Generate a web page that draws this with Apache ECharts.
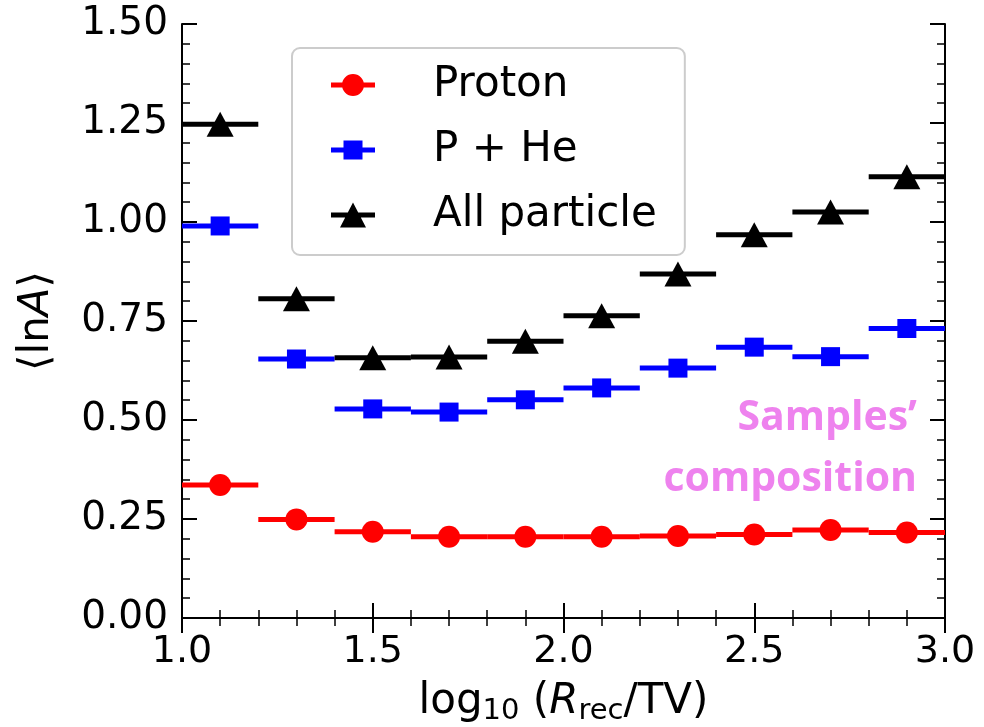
<!DOCTYPE html>
<html>
<head>
<meta charset="utf-8">
<script src="https://cdn.jsdelivr.net/npm/echarts@6/dist/echarts.min.js"></script>
<style>
html,body{margin:0;padding:0;background:#fff;}
#chart{width:984px;height:727px;}
</style>
</head>
<body>
<div id="chart"></div>
<script>
// ---- data ----
const binCenters = [1.1, 1.3, 1.5, 1.7, 1.9, 2.1, 2.3, 2.5, 2.7, 2.9];
const binHalfWidth = 0.1;
const protonLnA = [0.336, 0.249, 0.218, 0.205, 0.205, 0.205, 0.207, 0.211, 0.222, 0.216];
const pHeLnA    = [0.990, 0.654, 0.528, 0.520, 0.551, 0.581, 0.631, 0.684, 0.660, 0.731];
const allLnA    = [1.247, 0.806, 0.657, 0.659, 0.699, 0.763, 0.869, 0.968, 1.025, 1.114];
const seriesNames = ['Proton', 'P + He', 'All particle'];
const xTicks = [1.0, 1.5, 2.0, 2.5, 3.0];
const yTicks = [0.00, 0.25, 0.50, 0.75, 1.00, 1.25, 1.50];

const FONT = 'DejaVu Sans';
const chart = echarts.init(document.getElementById('chart'), null, {renderer: 'canvas'});

function errData(vals) {
  return binCenters.map((c, i) => [c, c - binHalfWidth, c + binHalfWidth, vals[i]]);
}
function ptData(vals) {
  return binCenters.map((c, i) => [c, vals[i]]);
}
function errSeries(name, vals, color) {
  return {
    type: 'custom', name: name, data: errData(vals), z: 2,
    itemStyle: {color: color},
    encode: {x: [0, 1, 2], y: 3},
    renderItem: function (params, api) {
      const p1 = api.coord([api.value(1), api.value(3)]);
      const p2 = api.coord([api.value(2), api.value(3)]);
      return {type: 'line', shape: {x1: p1[0], y1: p1[1], x2: p2[0], y2: p2[1]},
              style: {stroke: color, lineWidth: 5}};
    }
  };
}
function ptSeries(name, vals, color, symbol, size) {
  return {
    type: 'scatter', name: name, data: ptData(vals), z: 3,
    symbol: symbol, symbolSize: size,
    itemStyle: {color: color, opacity: 1},
    emphasis: {disabled: true}
  };
}

const tickStyle = {show: true, inside: true, length: 15, lineStyle: {color: '#000', width: 2}};
const minorStyle = {show: true, splitNumber: 5, length: 8, lineStyle: {color: '#000', width: 1.5}};
const lineStyle = {show: true, lineStyle: {color: '#000', width: 2}};

const iconCircle = 'path://M0,10 L44,10 L44,15 L0,15 Z M33,12.5 A11,11 0 1 1 11,12.5 A11,11 0 1 1 33,12.5 Z';
const iconSquare = 'path://M0,10 L44,10 L44,15 L0,15 Z M12.5,3 L31.5,3 L31.5,22 L12.5,22 Z';
const iconTri    = 'path://M0,10 L44,10 L44,15 L0,15 Z M22,0 L35,25 L9,25 Z';

const option = {
  animation: false,
  backgroundColor: '#fff',
  grid: {left: 182, right: 39, top: 24, bottom: 109, containLabel: false, outerBoundsMode: 'none'},
  legend: {
    orient: 'vertical', left: 292, top: 48,
    padding: [15, 28, 18, 39],
    itemWidth: 44, itemHeight: 25, itemGap: 21,
    backgroundColor: '#fff', borderColor: '#cccccc', borderWidth: 2, borderRadius: 8,
    textStyle: {fontFamily: FONT, fontSize: 42, color: '#000', lineHeight: 44, padding: [0, 0, 0, 53]},
    selectedMode: false,
    data: [
      {name: seriesNames[0], icon: iconCircle, itemStyle: {color: '#ff0000'}},
      {name: seriesNames[1], icon: iconSquare, itemStyle: {color: '#0000ff'}},
      {name: seriesNames[2], icon: iconTri, itemStyle: {color: '#000000'}}
    ]
  },
  xAxis: [{
    type: 'value', position: 'bottom', min: xTicks[0], max: xTicks[xTicks.length - 1], interval: 0.5,
    axisLine: lineStyle, axisTick: tickStyle, minorTick: minorStyle,
    splitLine: {show: false}, minorSplitLine: {show: false},
    axisLabel: {fontFamily: FONT, fontSize: 38, color: '#000', margin: 15,
                formatter: v => v.toFixed(1)},
    name: 'log{sub|10} ({i|R}{sub|rec}/TV)', nameLocation: 'middle', nameGap: 56,
    nameTextStyle: {
      fontFamily: FONT, fontSize: 42, color: '#000', lineHeight: 52, verticalAlign: 'top',
      rich: {
        sub: {fontFamily: FONT, fontSize: 29, color: '#000', padding: [20, 0, 0, 0], lineHeight: 34},
        i: {fontFamily: FONT, fontSize: 42, fontStyle: 'italic', color: '#000', lineHeight: 52}
      }
    }
  }, {
    type: 'value', position: 'top', min: xTicks[0], max: xTicks[xTicks.length - 1], interval: 0.5,
    axisLine: lineStyle, axisTick: tickStyle, minorTick: minorStyle,
    splitLine: {show: false}, axisLabel: {show: false}
  }],
  yAxis: [{
    type: 'value', position: 'left', min: yTicks[0], max: yTicks[yTicks.length - 1], interval: 0.25,
    axisLine: lineStyle, axisTick: tickStyle, minorTick: minorStyle,
    splitLine: {show: false}, minorSplitLine: {show: false},
    axisLabel: {fontFamily: FONT, fontSize: 39, color: '#000', margin: 14,
                formatter: v => v.toFixed(2)},
    name: '⟨ln{i|A}⟩', nameLocation: 'middle', nameGap: 120, nameRotate: 90,
    nameTextStyle: {
      fontFamily: FONT, fontSize: 42, color: '#000', lineHeight: 50,
      rich: {i: {fontFamily: FONT, fontSize: 42, fontStyle: 'italic', color: '#000', lineHeight: 50}}
    }
  }, {
    type: 'value', position: 'right', min: yTicks[0], max: yTicks[yTicks.length - 1], interval: 0.25,
    axisLine: lineStyle, axisTick: tickStyle, minorTick: minorStyle,
    splitLine: {show: false}, axisLabel: {show: false}
  }],
  graphic: [{
    type: 'text', x: 917, y: 388, z: 10,
    style: {
      text: 'Samples’\ncomposition', align: 'right', verticalAlign: 'top',
      font: 'bold 41px "Open Sans"', fill: '#EE82EE', lineHeight: 61
    }
  }],
  series: [
    errSeries(seriesNames[0], protonLnA, '#ff0000'),
    ptSeries(seriesNames[0], protonLnA, '#ff0000', 'circle', 22),
    errSeries(seriesNames[1], pHeLnA, '#0000ff'),
    ptSeries(seriesNames[1], pHeLnA, '#0000ff', 'rect', 19),
    errSeries(seriesNames[2], allLnA, '#000000'),
    ptSeries(seriesNames[2], allLnA, '#000000', 'triangle', [27, 25])
  ]
};
chart.setOption(option);
</script>
</body>
</html>
